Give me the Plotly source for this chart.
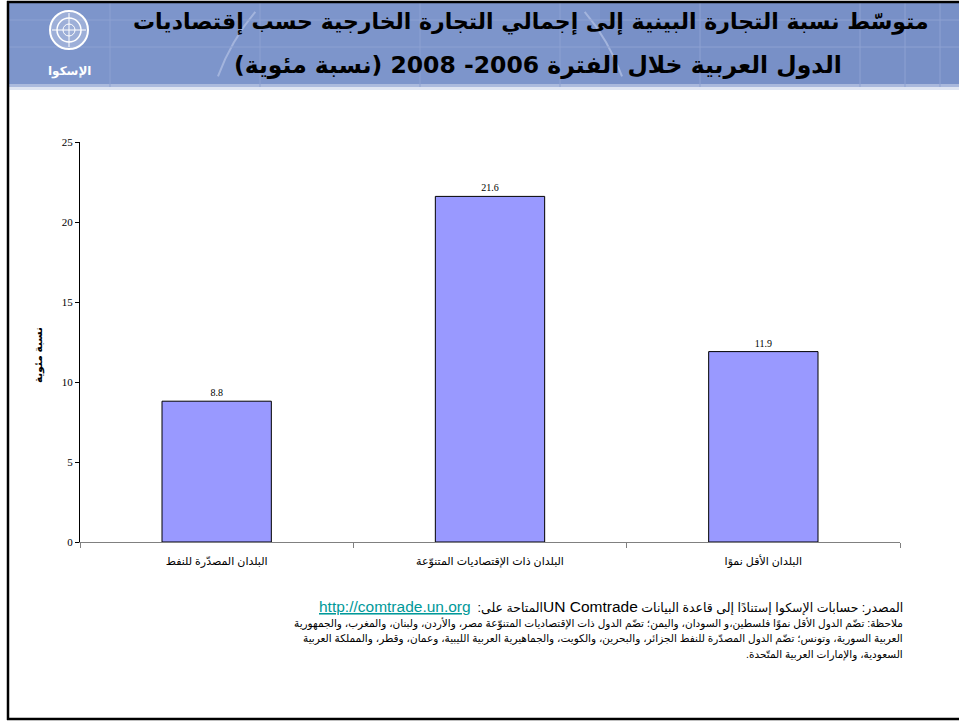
import plotly.graph_objects as go
import math

categories = ["البلدان المصدّرة للنفط", "البلدان ذات الإقتصاديات المتنوّعة", "البلدان الأقل نموًا"]
values = [8.8, 21.6, 11.9]
y_ticks = [0, 5, 10, 15, 20, 25]

title_line1 = "متوسّط نسبة التجارة البينية إلى إجمالي التجارة الخارجية حسب إقتصاديات"
title_line2 = "الدول العربية خلال الفترة 2006- 2008 (نسبة مئوية)"
y_title = "نسبة مئوية"
source_pre = "المصدر: حسابات الإسكوا إستنادًا إلى قاعدة البيانات "
source_db = "UN Comtrade"
source_post = "المتاحة على:  "
source_link = "http://comtrade.un.org"
note_lines = [
    "ملاحظة: تضّم الدول الأقل نموًا فلسطين،و السودان، واليمن؛ تضّم الدول ذات الإقتصاديات المتنوّعة مصر، والأردن، ولبنان، والمغرب، والجمهورية",
    "العربية السورية، وتونس؛ تضّم الدول المصدّرة للنفط الجزائر، والبحرين، والكويت، والجماهيرية العربية الليبية، وعمان، وقطر، والمملكة العربية",
    "السعودية، والإمارات العربية المتّحدة.",
]

W, H = 959, 721
L, R, T, B = 80, 900, 142, 542


def X(p):
    return (p - L) / (R - L)


def Y(p):
    return (B - p) / (B - T)


RLE, PDF = "\u202B", "\u202C"

fig = go.Figure()
fig.add_trace(go.Bar(
    x=categories, y=values,
    marker=dict(color="#9999FF", line=dict(color="#000000", width=1)),
    text=[f"{v:.1f}" for v in values], textposition="outside",
    textfont=dict(family="Liberation Serif, Times New Roman, serif", size=10, color="black"),
    cliponaxis=False, width=0.4,
))

shapes = []
# header band
shapes.append(dict(type="rect", xref="paper", yref="paper", x0=X(9), x1=X(960), y0=Y(3), y1=Y(87),
                   fillcolor="#7D95CB", line=dict(width=0), layer="below"))
shapes.append(dict(type="rect", xref="paper", yref="paper", x0=X(600), x1=X(960), y0=Y(3), y1=Y(87),
                   fillcolor="#7890C7", line=dict(width=0), layer="below"))
shapes.append(dict(type="rect", xref="paper", yref="paper", x0=X(9), x1=X(960), y0=Y(84), y1=Y(90),
                   fillcolor="#C9D3EA", line=dict(width=0), layer="below", opacity=0.6))
# globe arc inside header
arc_pts = []
cx, cy, rr = 420, 150, 215
for k in range(0, 181, 5):
    a = math.radians(180 + k)
    px_, py_ = cx + rr * math.cos(a), cy + rr * math.sin(a)
    if 4 <= py_ <= 86:
        arc_pts.append((X(px_), Y(py_)))
left = [p for p in arc_pts if p[0] < X(cx)]
right = [p for p in arc_pts if p[0] >= X(cx)]
for seg in (left, right):
    if len(seg) > 1:
        path = "M " + " L ".join(f"{a:.5f},{b:.5f}" for a, b in seg)
        shapes.append(dict(type="path", xref="paper", yref="paper", path=path,
                           line=dict(color="#A3B4DD", width=2), layer="below"))
# faint grid lines in header
for gx in [110, 260, 420, 560, 700, 860, 905, 940]:
    shapes.append(dict(type="line", xref="paper", yref="paper", x0=X(gx), x1=X(gx), y0=Y(3), y1=Y(87),
                       line=dict(color="#8DA1D2", width=1), layer="below"))
for gy in [20, 47]:
    shapes.append(dict(type="line", xref="paper", yref="paper", x0=X(9), x1=X(960), y0=Y(gy), y1=Y(gy),
                       line=dict(color="#8DA1D2", width=1), layer="below"))
# logo emblem
shapes.append(dict(type="circle", xref="paper", yref="paper", x0=X(50), x1=X(88), y0=Y(11), y1=Y(49),
                   fillcolor="rgba(255,255,255,0.25)", line=dict(color="white", width=2)))
shapes.append(dict(type="circle", xref="paper", yref="paper", x0=X(57), x1=X(81), y0=Y(18), y1=Y(42),
                   line=dict(color="white", width=1.5)))
shapes.append(dict(type="circle", xref="paper", yref="paper", x0=X(63), x1=X(75), y0=Y(24), y1=Y(36),
                   line=dict(color="white", width=1)))
shapes.append(dict(type="line", xref="paper", yref="paper", x0=X(69), x1=X(69), y0=Y(13), y1=Y(47),
                   line=dict(color="white", width=1)))
shapes.append(dict(type="line", xref="paper", yref="paper", x0=X(52), x1=X(86), y0=Y(30), y1=Y(30),
                   line=dict(color="white", width=1)))
# slide border
shapes.append(dict(type="line", xref="paper", yref="paper", x0=X(8), x1=X(8), y0=Y(1), y1=Y(720),
                   line=dict(color="black", width=2.5)))
shapes.append(dict(type="line", xref="paper", yref="paper", x0=X(7), x1=X(960), y0=Y(2), y1=Y(2),
                   line=dict(color="black", width=2.5)))
shapes.append(dict(type="line", xref="paper", yref="paper", x0=X(7), x1=X(960), y0=Y(719), y1=Y(719),
                   line=dict(color="black", width=2.5)))

ar_font = "Liberation Sans, Arial, DejaVu Sans, sans-serif"
source_text = (RLE + source_pre + "<span style='font-size:15.5px'>" + source_db + "</span>" + source_post
               + "<span style='font-size:15.5px;color:#009999;text-decoration:underline'>" + source_link
               + "</span>" + PDF)
annotations = [
    dict(text=RLE + "<b>" + title_line1 + "</b>" + PDF, x=X(531), y=Y(22), xref="paper", yref="paper",
         showarrow=False, xanchor="center", yanchor="middle",
         font=dict(family="DejaVu Sans, sans-serif", size=22, color="black")),
    dict(text=RLE + "<b>" + title_line2 + "</b>" + PDF, x=X(538), y=Y(65), xref="paper", yref="paper",
         showarrow=False, xanchor="center", yanchor="middle",
         font=dict(family="DejaVu Sans, sans-serif", size=23.5, color="black")),
    dict(text="<b>الإسكوا</b>", x=X(69), y=Y(72), xref="paper", yref="paper", showarrow=False,
         xanchor="center", yanchor="middle", font=dict(family="DejaVu Sans", size=12, color="white")),
    dict(text="<b>" + y_title + "</b>", x=X(38), y=Y(355), xref="paper", yref="paper", showarrow=False,
         textangle=-90, xanchor="center", yanchor="middle", font=dict(family=ar_font, size=10.5, color="black")),
    dict(text=source_text,
         x=X(905), y=Y(607), xref="paper", yref="paper", showarrow=False, xanchor="right", yanchor="middle",
         font=dict(family=ar_font, size=12.5, color="black")),
]
for i, line in enumerate(note_lines):
    annotations.append(dict(text=RLE + line + PDF, x=X(905), y=Y(623 + 15.7 * i), xref="paper", yref="paper",
                            showarrow=False, xanchor="right", yanchor="middle",
                            font=dict(family=ar_font, size=10.5, color="black")))

fig.update_layout(
    width=W, height=H,
    margin=dict(l=L, r=W - R, t=T, b=H - B, pad=0),
    paper_bgcolor="white", plot_bgcolor="white",
    showlegend=False,
    shapes=shapes,
    annotations=annotations,
    xaxis=dict(type="category", showline=True, linecolor="#808080", linewidth=1,
               ticks="outside", tickson="boundaries", ticklen=5, tickcolor="#808080",
               tickfont=dict(family=ar_font, size=11, color="black"), ticklabelstandoff=9,
               showgrid=False, zeroline=False),
    yaxis=dict(range=[0, 25], tickvals=y_ticks, showline=True, linecolor="black", linewidth=1,
               ticks="outside", ticklen=4, tickcolor="black",
               tickfont=dict(family="Liberation Serif, Times New Roman, serif", size=11, color="black"),
               showgrid=False, zeroline=False),
    bargap=0.6,
)

fig.write_html("out.html")
